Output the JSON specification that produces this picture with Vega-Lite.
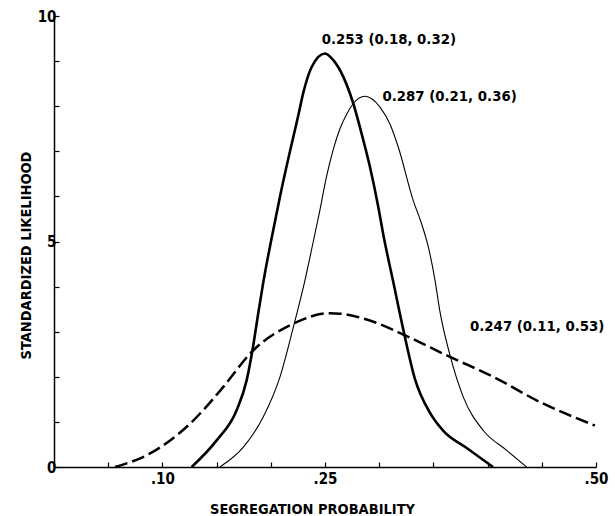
{
  "$schema": "https://vega.github.io/schema/vega-lite/v6.json",
  "width": 542,
  "height": 451,
  "autosize": {"type": "none"},
  "padding": {"left": 54, "top": 16, "right": 19, "bottom": 49},
  "background": "white",
  "config": {
    "view": {"stroke": null},
    "font": "DejaVu Sans Condensed, sans-serif",
    "axis": {
      "grid": false,
      "domainColor": "black",
      "domainWidth": 1.5,
      "tickColor": "black",
      "tickWidth": 1.2,
      "labelColor": "black",
      "titleColor": "black",
      "labelFont": "DejaVu Sans Condensed, sans-serif",
      "titleFont": "DejaVu Sans Condensed, sans-serif",
      "labelFontWeight": "bold",
      "titleFontWeight": "bold",
      "labelFontSize": 15,
      "titleFontSize": 14.5
    }
  },
  "datasets": {
    "curves": [
      {"series": "A", "x": 0.127, "y": 0},
      {"series": "A", "x": 0.150, "y": 0.59},
      {"series": "A", "x": 0.1685, "y": 1.26},
      {"series": "A", "x": 0.1777, "y": 1.92},
      {"series": "A", "x": 0.1835, "y": 2.65},
      {"series": "A", "x": 0.1885, "y": 3.42},
      {"series": "A", "x": 0.1931, "y": 4.1},
      {"series": "A", "x": 0.2008, "y": 5.08},
      {"series": "A", "x": 0.2085, "y": 6.0},
      {"series": "A", "x": 0.2177, "y": 7.0},
      {"series": "A", "x": 0.2254, "y": 7.8},
      {"series": "A", "x": 0.23, "y": 8.3},
      {"series": "A", "x": 0.2377, "y": 8.87},
      {"series": "A", "x": 0.25, "y": 9.17},
      {"series": "A", "x": 0.2577, "y": 9.02},
      {"series": "A", "x": 0.2669, "y": 8.65},
      {"series": "A", "x": 0.2761, "y": 8.06},
      {"series": "A", "x": 0.2838, "y": 7.39},
      {"series": "A", "x": 0.2915, "y": 6.65},
      {"series": "A", "x": 0.2992, "y": 5.76},
      {"series": "A", "x": 0.3038, "y": 5.15},
      {"series": "A", "x": 0.313, "y": 4.1},
      {"series": "A", "x": 0.3222, "y": 3.05},
      {"series": "A", "x": 0.333, "y": 1.95},
      {"series": "A", "x": 0.3469, "y": 1.2},
      {"series": "A", "x": 0.3592, "y": 0.8},
      {"series": "A", "x": 0.3807, "y": 0.42},
      {"series": "A", "x": 0.405, "y": 0},
      {"series": "B", "x": 0.153, "y": 0},
      {"series": "B", "x": 0.1747, "y": 0.44},
      {"series": "B", "x": 0.193, "y": 1.11},
      {"series": "B", "x": 0.2085, "y": 2.0},
      {"series": "B", "x": 0.2208, "y": 3.1},
      {"series": "B", "x": 0.2315, "y": 4.14},
      {"series": "B", "x": 0.2392, "y": 5.0},
      {"series": "B", "x": 0.2445, "y": 5.6},
      {"series": "B", "x": 0.2515, "y": 6.45},
      {"series": "B", "x": 0.2577, "y": 7.05},
      {"series": "B", "x": 0.2638, "y": 7.5},
      {"series": "B", "x": 0.2700, "y": 7.82},
      {"series": "B", "x": 0.2761, "y": 8.06},
      {"series": "B", "x": 0.2869, "y": 8.22},
      {"series": "B", "x": 0.3007, "y": 7.98},
      {"series": "B", "x": 0.31, "y": 7.6},
      {"series": "B", "x": 0.3175, "y": 7.1},
      {"series": "B", "x": 0.3315, "y": 5.9},
      {"series": "B", "x": 0.339, "y": 5.4},
      {"series": "B", "x": 0.3453, "y": 4.88},
      {"series": "B", "x": 0.3515, "y": 4.14},
      {"series": "B", "x": 0.356, "y": 3.45},
      {"series": "B", "x": 0.3653, "y": 2.48},
      {"series": "B", "x": 0.3776, "y": 1.55},
      {"series": "B", "x": 0.396, "y": 0.81},
      {"series": "B", "x": 0.4176, "y": 0.37},
      {"series": "B", "x": 0.436, "y": 0},
      {"series": "C", "x": 0.0563, "y": 0},
      {"series": "C", "x": 0.0886, "y": 0.30},
      {"series": "C", "x": 0.1255, "y": 0.96},
      {"series": "C", "x": 0.156, "y": 1.77},
      {"series": "C", "x": 0.1823, "y": 2.55},
      {"series": "C", "x": 0.2208, "y": 3.18},
      {"series": "C", "x": 0.2546, "y": 3.41},
      {"series": "C", "x": 0.2638, "y": 3.40},
      {"series": "C", "x": 0.2946, "y": 3.22},
      {"series": "C", "x": 0.3238, "y": 2.92},
      {"series": "C", "x": 0.3653, "y": 2.44},
      {"series": "C", "x": 0.4053, "y": 2.0},
      {"series": "C", "x": 0.4483, "y": 1.44},
      {"series": "C", "x": 0.499, "y": 0.92}
    ],
    "labels": [
      {"x": 0.247, "y": 9.46, "label": "0.253 (0.18, 0.32)"},
      {"x": 0.303, "y": 8.2, "label": "0.287 (0.21, 0.36)"},
      {"x": 0.3838, "y": 3.1, "label": "0.247 (0.11, 0.53)"}
    ]
  },
  "layer": [
    {
      "data": {"name": "curves"},
      "transform": [{"filter": "datum.series == 'A'"}],
      "mark": {"type": "line", "interpolate": "monotone", "color": "black", "strokeWidth": 2.6},
      "encoding": {
        "x": {
          "field": "x", "type": "quantitative",
          "scale": {"domain": [0, 0.5], "nice": false, "zero": false},
          "axis": {
            "title": "SEGREGATION PROBABILITY",
            "values": [0.05, 0.1, 0.15, 0.2, 0.25, 0.3, 0.35, 0.4, 0.45, 0.5],
            "labelExpr": "datum.value == 0.1 ? '.10' : datum.value == 0.25 ? '.25' : datum.value == 0.5 ? '.50' : ''",
            "tickSize": -5,
            "labelPadding": 9,
            "titleX": 258,
            "titleY": 46,
            "titleBaseline": "alphabetic",
            "labelFlush": false
          }
        },
        "y": {
          "field": "y", "type": "quantitative",
          "scale": {"domain": [0, 10], "nice": false},
          "axis": {
            "title": "STANDARDIZED LIKELIHOOD",
            "values": [0, 1, 2, 3, 4, 5, 6, 7, 8, 9, 10],
            "labelExpr": "datum.value % 5 == 0 ? datum.label : ''",
            "tickSize": -5,
            "labelPadding": 3,
            "titleX": -24,
            "titleY": 239,
            "titleAngle": 270,
            "titleBaseline": "alphabetic",
            "labelFlush": false
          }
        },
        "order": {"field": "x", "type": "quantitative"}
      }
    },
    {
      "data": {"name": "curves"},
      "transform": [{"filter": "datum.series == 'B'"}],
      "mark": {"type": "line", "interpolate": "monotone", "color": "black", "strokeWidth": 1.1},
      "encoding": {
        "x": {"field": "x", "type": "quantitative"},
        "y": {"field": "y", "type": "quantitative"},
        "order": {"field": "x", "type": "quantitative"}
      }
    },
    {
      "data": {"name": "curves"},
      "transform": [{"filter": "datum.series == 'C'"}],
      "mark": {"type": "line", "interpolate": "monotone", "color": "black", "strokeWidth": 2.5, "strokeDash": [13, 5]},
      "encoding": {
        "x": {"field": "x", "type": "quantitative"},
        "y": {"field": "y", "type": "quantitative"},
        "order": {"field": "x", "type": "quantitative"}
      }
    },
    {
      "data": {"name": "labels"},
      "mark": {"type": "text", "align": "left", "baseline": "middle", "fontSize": 14.8, "fontWeight": "bold", "color": "black", "font": "DejaVu Sans Condensed, sans-serif"},
      "encoding": {
        "x": {"field": "x", "type": "quantitative"},
        "y": {"field": "y", "type": "quantitative"},
        "text": {"field": "label", "type": "nominal"}
      }
    }
  ]
}
